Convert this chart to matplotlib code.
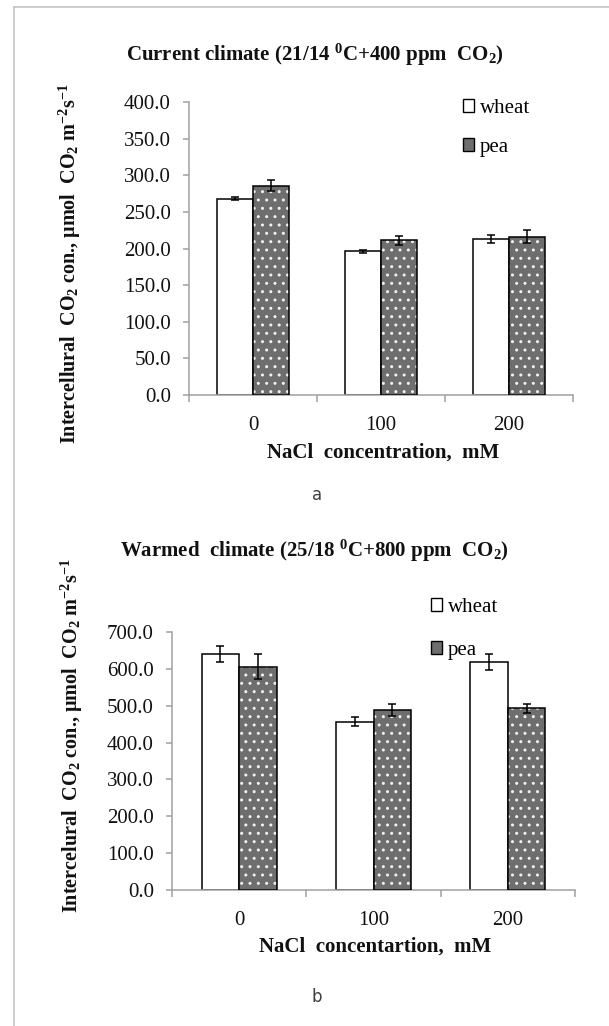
import matplotlib
matplotlib.use("Agg")
import matplotlib.pyplot as plt
from matplotlib.patches import Patch
from matplotlib.lines import Line2D

plt.rcParams['font.family'] = ['Liberation Serif', 'DejaVu Serif']
plt.rcParams['mathtext.fontset'] = 'custom'
plt.rcParams['mathtext.rm'] = 'Liberation Serif'
plt.rcParams['mathtext.bf'] = 'Liberation Serif:bold'
plt.rcParams['mathtext.it'] = 'Liberation Serif:italic'

# data
nacl = ['0', '100', '200']
species = ['wheat', 'pea']

wheat_current = [268, 196, 213]
wheat_current_err = [2, 2, 6]
pea_current = [286, 211, 216]
pea_current_err = [7, 6, 9]

wheat_warm = [640, 457, 618]
wheat_warm_err = [21, 13, 21]
pea_warm = [606, 488, 493]
pea_warm_err = [34, 17, 12]

W, H = 609, 1026
fig = plt.figure(figsize=(W / 100, H / 100), dpi=100)

def fx(px):
    return px / W

def fy(py):
    return 1 - py / H

grey = '#a0a0a0'
pea_face = '#6e6e6e'


def draw_panel(rect, wheat, wheat_err, pea, pea_err, ymax, ystep):
    ax = fig.add_axes(rect)
    x = list(range(len(nacl)))
    bw = 0.28
    xw = [i - bw / 2 for i in x]
    xp = [i + bw / 2 for i in x]
    ax.bar(xw, wheat, bw, color='white', edgecolor='black', linewidth=1.1, zorder=2)
    # pea: grey face with white dot hatch, then black outline
    ax.bar(xp, pea, bw, color=pea_face, edgecolor='#f0f0f0', hatch='..', linewidth=0, zorder=2)
    ax.bar(xp, pea, bw, fill=False, edgecolor='black', linewidth=1.1, zorder=3)
    ax.errorbar(xw, wheat, yerr=wheat_err, fmt='none', ecolor='black', elinewidth=1.1,
                capsize=3, capthick=1.1, zorder=4)
    ax.errorbar(xp, pea, yerr=pea_err, fmt='none', ecolor='black', elinewidth=1.1,
                capsize=3, capthick=1.1, zorder=4)
    ax.set_xlim(-0.5, len(nacl) - 0.5)
    ax.set_ylim(0, ymax)
    ax.set_yticks([v * ystep for v in range(int(ymax / ystep) + 1)])
    ax.set_yticklabels(['%.1f' % (v * ystep) for v in range(int(ymax / ystep) + 1)])
    ax.set_xticks([i - 0.5 for i in range(len(nacl) + 1)])
    ax.set_xticklabels([])
    ax.set_xticks(x, minor=True)
    ax.set_xticklabels(nacl, minor=True)
    for s in ['top', 'right']:
        ax.spines[s].set_visible(False)
    for s in ['left', 'bottom']:
        ax.spines[s].set_color(grey)
        ax.spines[s].set_linewidth(1.1)
    ax.tick_params(axis='y', direction='out', length=4, width=1.1, color=grey,
                   labelsize=15, pad=9, labelcolor='#111111')
    ax.tick_params(axis='x', which='major', direction='out', length=5, width=1.1, color=grey)
    ax.tick_params(axis='x', which='minor', length=0, pad=15, labelsize=15, labelcolor='#111111')
    return ax


# top panel
ax1 = draw_panel([fx(189), fy(395), fx(573) - fx(189), fy(102) - fy(395)],
                 wheat_current, wheat_current_err, pea_current, pea_current_err, 400, 50)
# bottom panel
ax2 = draw_panel([fx(172), fy(890), fx(575) - fx(172), fy(632) - fy(890)],
                 wheat_warm, wheat_warm_err, pea_warm, pea_warm_err, 700, 100)

bold = dict(fontsize=15, fontweight='bold', color='#111111')

fig.text(fx(315), fy(55), r'Current climate (21/14 $^{\mathbf{0}}$C+400 ppm  CO$_{\mathbf{2}}$)',
         ha='center', va='center', **bold)
fig.text(fx(314), fy(551), r'Warmed  climate (25/18 $^{\mathbf{0}}$C+800 ppm  CO$_{\mathbf{2}}$)',
         ha='center', va='center', **bold)

ylab = dict(fontsize=14.5, fontweight='bold', color='#111111')
fig.text(fx(70), fy(264),
         r'Intercellural  CO$_{\mathbf{2}}$ con., $\mathbf{\mu}$mol  CO$_{\mathbf{2}}$ m$^{\mathbf{-2}}$s$^{\mathbf{-1}}$',
         rotation=90, ha='center', va='center', **ylab)
fig.text(fx(72), fy(736),
         r'Intercelural  CO$_{\mathbf{2}}$ con., $\mathbf{\mu}$mol  CO$_{\mathbf{2}}$ m$^{\mathbf{-2}}$s$^{\mathbf{-1}}$',
         rotation=90, ha='center', va='center', **ylab)

fig.text(fx(383), fy(453), 'NaCl  concentration,  mM', ha='center', va='center', **bold)
fig.text(fx(375), fy(947), 'NaCl  concentartion,  mM', ha='center', va='center', **bold)

fig.text(fx(317), fy(495), 'a', ha='center', va='center', fontsize=12,
         family=['DejaVu Sans'], color='#404040')
fig.text(fx(317), fy(997), 'b', ha='center', va='center', fontsize=12,
         family=['DejaVu Sans'], color='#404040')

handles = [Patch(facecolor='white', edgecolor='black', linewidth=1.0),
           Patch(facecolor=pea_face, edgecolor='black', linewidth=1.0)]
fig.legend(handles, species, loc='upper left', bbox_to_anchor=(fx(463), fy(99)),
           frameon=False, fontsize=15, handlelength=0.55, handleheight=0.55,
           handletextpad=0.25, labelspacing=0.95, borderpad=0, borderaxespad=0)
fig.legend(handles, species, loc='upper left', bbox_to_anchor=(fx(431), fy(598)),
           frameon=False, fontsize=15, handlelength=0.55, handleheight=0.55,
           handletextpad=0.25, labelspacing=1.15, borderpad=0, borderaxespad=0)

# outer frame (top and left only)
fig.add_artist(Line2D([fx(14), 1], [fy(7), fy(7)], color='#c4c4c4', linewidth=1.2))
fig.add_artist(Line2D([fx(14), fx(14)], [fy(7), 0], color='#c4c4c4', linewidth=1.2))

fig.savefig('out.png', dpi=100)
